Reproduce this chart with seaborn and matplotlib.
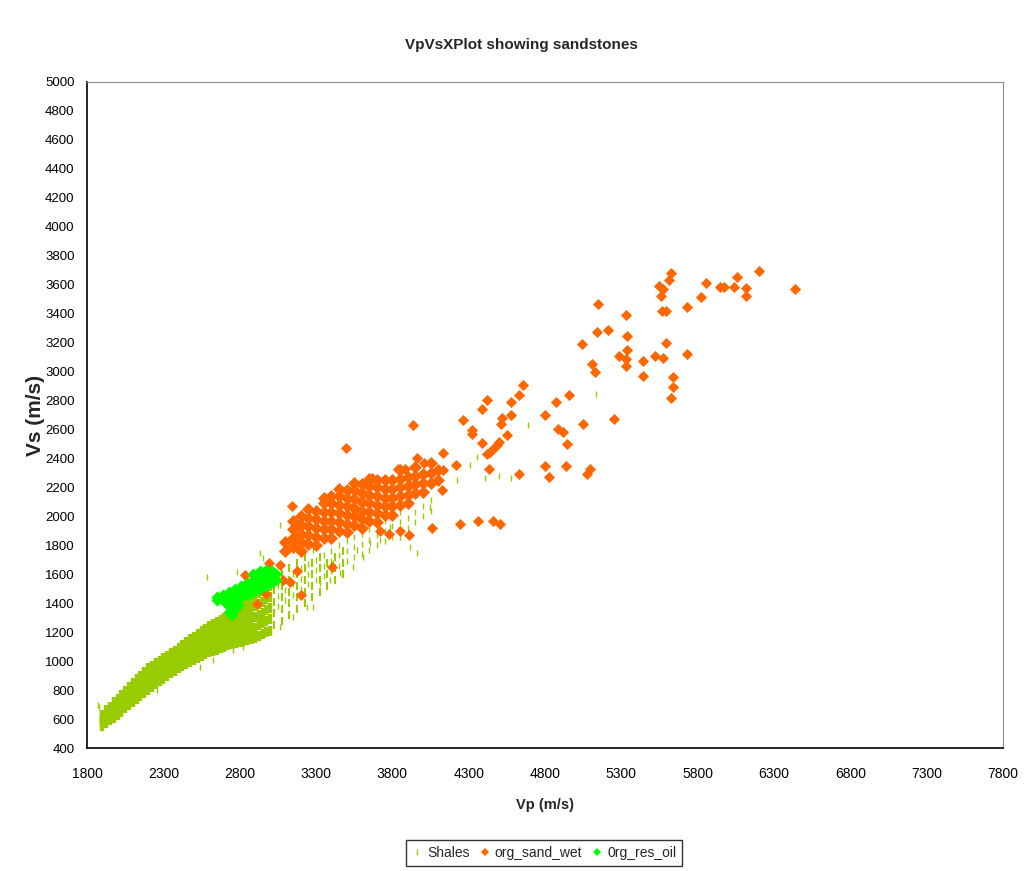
import matplotlib
matplotlib.use("Agg")
import matplotlib.pyplot as plt
from matplotlib.lines import Line2D
import seaborn as sns

# ---------------- data ----------------
# Shales: dense core of the trend, one column of dashes per Vp value (five Vs levels)
shale_core_vp = [1900, 1925, 1950, 1975, 2000, 2025, 2050, 2075, 2100, 2125, 2150, 2175,
                 2200, 2225, 2250, 2275, 2300, 2325, 2350, 2375, 2400, 2425, 2450, 2475,
                 2500, 2525, 2550, 2575, 2600, 2625, 2650, 2675, 2700, 2725, 2750, 2775,
                 2800, 2825, 2850, 2875, 2900, 2925, 2950, 2975, 3000]
shale_core_l1 = [550, 570, 590, 610, 630, 652, 675, 698, 720, 740, 760, 780,
                 800, 820, 840, 860, 880, 898, 915, 933, 950, 965, 980, 995,
                 1010, 1023, 1035, 1048, 1060, 1070, 1080, 1090, 1100, 1108, 1115, 1123,
                 1130, 1138, 1145, 1153, 1160, 1173, 1185, 1198, 1210]
shale_core_l2 = [570, 592, 614, 636, 658, 681, 705, 729, 752, 774, 795, 816,
                 838, 857, 876, 896, 915, 933, 950, 968, 985, 1001, 1018, 1034,
                 1050, 1064, 1078, 1092, 1105, 1116, 1128, 1139, 1150, 1160, 1170, 1180,
                 1190, 1201, 1211, 1222, 1232, 1247, 1260, 1274, 1288]
shale_core_l3 = [590, 615, 638, 662, 685, 710, 735, 760, 785, 808, 830, 852,
                 875, 894, 912, 932, 950, 968, 985, 1003, 1020, 1038, 1055, 1072,
                 1090, 1105, 1120, 1135, 1150, 1162, 1175, 1188, 1200, 1213, 1225, 1238,
                 1250, 1264, 1278, 1291, 1305, 1320, 1335, 1350, 1365]
shale_core_l4 = [610, 638, 661, 689, 712, 738, 765, 791, 818, 841, 865, 889,
                 912, 931, 949, 967, 985, 1003, 1020, 1038, 1055, 1074, 1092, 1111,
                 1130, 1147, 1162, 1179, 1195, 1209, 1222, 1236, 1250, 1265, 1280, 1295,
                 1310, 1327, 1344, 1361, 1378, 1394, 1410, 1427, 1442]
shale_core_l5 = [630, 660, 685, 715, 740, 767, 795, 822, 850, 875, 900, 925,
                 950, 968, 985, 1003, 1020, 1038, 1055, 1073, 1090, 1110, 1130, 1150,
                 1170, 1188, 1205, 1223, 1240, 1255, 1270, 1285, 1300, 1318, 1335, 1353,
                 1370, 1390, 1410, 1430, 1450, 1468, 1485, 1503, 1520]

# Shales: medium-density part of the trend just above Vp 3000
shale_mid_vp = [3025, 3025, 3025, 3025, 3075, 3075, 3075, 3075, 3075,
                3125, 3125, 3125, 3125, 3125, 3175, 3175, 3175, 3175, 3175,
                3225, 3225, 3225, 3225, 3225, 3275, 3275, 3275, 3275,
                3325, 3325, 3325, 3325, 3375, 3375, 3375, 3425, 3425, 3425,
                3475, 3475, 3475]
shale_mid_vs = [1250, 1330, 1410, 1490, 1280, 1360, 1440, 1520, 1600,
                1320, 1400, 1480, 1560, 1640, 1360, 1440, 1520, 1600, 1680,
                1400, 1480, 1560, 1640, 1720, 1440, 1520, 1600, 1680,
                1480, 1560, 1640, 1720, 1520, 1600, 1680, 1560, 1640, 1720,
                1600, 1680, 1760]

# Shales: looser part of the trend and scattered dashes
shale_vp = [3050, 3050, 3050, 3100, 3100, 3100, 3150, 3150, 3150, 3200, 3200, 3200,
            3250, 3250, 3250, 3300, 3300, 3300, 3350, 3350, 3350, 3400, 3400, 3400,
            3450, 3450, 3450, 3500, 3500, 3500, 3550, 3550, 3550, 3600, 3600, 3600,
            3650, 3650, 3650, 3700, 3700, 3700, 3750, 3750, 3750, 3800, 3800, 3800,
            3850, 3850, 3850, 3900, 3900, 3950, 3950, 4000, 4000, 4050, 4050,
            3064, 2953, 3149, 3280, 3326, 3392, 3280, 3241, 3064, 3149, 2999, 2756,
            2822, 2887, 2540, 2625, 2258, 2213, 2586, 2782, 2933, 3569, 3654, 3719,
            3411, 3457, 3542, 3608, 3785, 3850, 3916, 3962, 4047, 4690, 5134, 4223,
            4407, 4500, 4575, 4309, 4353, 1880, 1870]
shale_vs = [1380, 1450, 1520, 1420, 1490, 1560, 1460, 1530, 1600, 1500, 1570, 1640,
            1530, 1600, 1670, 1560, 1630, 1700, 1590, 1660, 1730, 1620, 1690, 1760,
            1660, 1730, 1800, 1690, 1760, 1830, 1720, 1790, 1860, 1740, 1810, 1880,
            1770, 1840, 1910, 1800, 1870, 1940, 1830, 1900, 1970, 1860, 1930, 2000,
            1890, 1960, 2030, 1920, 1990, 1960, 2030, 2000, 2070, 2040, 2110,
            1940, 1712, 1857, 1768, 1540, 1560, 1374, 1374, 1236, 1305, 1284, 1077,
            1098, 1146, 960, 1008, 801, 822, 1581, 1616, 1747, 1768, 1816, 1837,
            1678, 1609, 1650, 1719, 1926, 1857, 1788, 1747, 2065, 2630, 2845, 2251,
            2265, 2279, 2265, 2355, 2410, 680, 700]

# org_sand_wet: scattered points
sand_vp = [6200, 6055, 6040, 6115, 6115, 5970, 5945, 5855, 5820, 5730, 6440, 5625,
           5615, 5545, 5570, 5560, 5565, 5590, 5150, 5330, 5140, 5210, 5340, 5040,
           5595, 5340, 5285, 5330, 5330, 5445, 5445, 5520, 5575, 5730, 5105, 5125,
           5640, 5640, 5625,
           4655, 4630, 4420, 4390, 4580, 4580, 4520, 4510, 4260, 4320, 4325, 4550,
           4390, 4500, 4485, 4460, 4440, 4420, 4130, 4215, 4435, 4630, 4800, 4825,
           4935, 5095, 5075, 4800, 4870, 4955, 4885, 4915, 4945, 5050, 5250, 4135,
           4125, 4245, 4360, 4460, 4505,
           3935, 3497, 3141, 4062, 3960, 4007, 3839, 3883, 3665,
           2835, 2915, 2970, 2990, 3065, 3085, 3130, 3205, 3175, 3405,
           3720, 3780, 3850, 3910]
sand_vs = [3695, 3655, 3585, 3575, 3525, 3585, 3585, 3610, 3515, 3445, 3570, 3680,
           3635, 3590, 3570, 3525, 3415, 3420, 3470, 3390, 3275, 3285, 3245, 3190,
           3200, 3150, 3110, 3090, 3035, 3075, 2970, 3110, 3095, 3120, 3055, 3000,
           2965, 2895, 2820,
           2905, 2840, 2805, 2740, 2790, 2700, 2680, 2635, 2665, 2595, 2570, 2565,
           2505, 2515, 2495, 2465, 2445, 2430, 2435, 2355, 2325, 2290, 2345, 2270,
           2345, 2325, 2290, 2700, 2790, 2840, 2600, 2580, 2500, 2635, 2675, 2320,
           2185, 1945, 1970, 1970, 1945,
           2630, 2472, 2071, 1917, 2400, 2366, 2325, 2325, 2263,
           1595, 1395, 1465, 1675, 1665, 1560, 1550, 1455, 1620, 1650,
           1900, 1880, 1900, 1870]

# org_sand_wet: dense cluster
sand_core_vp = [3100, 3100,
                3150, 3150, 3150, 3150,
                3200, 3200, 3200, 3200, 3200,
                3250, 3250, 3250, 3250, 3250,
                3300, 3300, 3300, 3300, 3300,
                3350, 3350, 3350, 3350, 3350, 3350,
                3400, 3400, 3400, 3400, 3400, 3400,
                3450, 3450, 3450, 3450, 3450, 3450,
                3500, 3500, 3500, 3500, 3500, 3500,
                3550, 3550, 3550, 3550, 3550, 3550,
                3600, 3600, 3600, 3600, 3600, 3600,
                3650, 3650, 3650, 3650, 3650, 3650,
                3700, 3700, 3700, 3700, 3700, 3700,
                3750, 3750, 3750, 3750, 3750,
                3800, 3800, 3800, 3800, 3800,
                3850, 3850, 3850, 3850, 3850,
                3900, 3900, 3900, 3900,
                3950, 3950, 3950, 3950,
                4000, 4000, 4000,
                4050, 4050, 4050,
                4100, 4100]
sand_core_vs = [1760, 1820,
                1790, 1850, 1910, 1970,
                1760, 1820, 1880, 1940, 2000,
                1810, 1870, 1930, 1990, 2050,
                1800, 1860, 1920, 1980, 2040,
                1850, 1910, 1970, 2030, 2090, 2130,
                1850, 1910, 1970, 2030, 2090, 2140,
                1900, 1960, 2020, 2080, 2140, 2190,
                1890, 1950, 2010, 2070, 2130, 2180,
                1940, 2000, 2060, 2120, 2180, 2230,
                1920, 1980, 2040, 2100, 2160, 2220,
                1970, 2030, 2090, 2150, 2210, 2260,
                1960, 2020, 2080, 2140, 2200, 2250,
                2010, 2070, 2130, 2190, 2250,
                2010, 2070, 2130, 2190, 2250,
                2080, 2140, 2200, 2260, 2320,
                2090, 2150, 2210, 2270,
                2160, 2220, 2280, 2340,
                2170, 2230, 2290,
                2230, 2300, 2370,
                2250, 2320]

# 0rg_res_oil
oil_vp = [2650, 2650, 2690, 2690, 2730, 2730, 2730, 2730, 2770, 2770, 2770, 2770,
          2810, 2810, 2810, 2850, 2850, 2850, 2890, 2890, 2890, 2890,
          2930, 2930, 2930, 2930, 2970, 2970, 2970, 2970, 3010, 3010, 3010, 3040, 3040,
          2750, 2790, 2710]
oil_vs = [1420, 1440, 1420, 1460, 1440, 1480, 1380, 1340, 1460, 1500, 1410, 1360,
          1480, 1520, 1440, 1500, 1540, 1460, 1520, 1560, 1600, 1480,
          1540, 1580, 1620, 1500, 1560, 1600, 1630, 1520, 1550, 1590, 1620, 1560, 1600,
          1320, 1390, 1400]

series_names = ["Shales", "org_sand_wet", "0rg_res_oil"]
series_colors = ["#99CC00", "#FF6600", "#00FF00"]
x_ticks = [1800, 2300, 2800, 3300, 3800, 4300, 4800, 5300, 5800, 6300, 6800, 7300, 7800]
y_ticks = list(range(400, 5001, 200))

# ---------------- figure ----------------
sns.set_theme(style="white")
plt.rcParams['font.family'] = ['Liberation Sans', 'DejaVu Sans']

fig = plt.figure(figsize=(10.24, 8.71), dpi=100)
ax = fig.add_axes([87 / 1024, 123 / 871, 916 / 1024, 666 / 871])

shale_c, sand_c, oil_c = series_colors

# shales
for lev in (shale_core_l1, shale_core_l2, shale_core_l3, shale_core_l4, shale_core_l5):
    sns.scatterplot(x=shale_core_vp, y=lev, marker='|', s=50, linewidth=3.2,
                    color=shale_c, ax=ax, legend=False, zorder=2)
sns.scatterplot(x=shale_mid_vp, y=shale_mid_vs, marker='|', s=30, linewidth=1.5,
                color=shale_c, ax=ax, legend=False, zorder=2)
sns.scatterplot(x=shale_vp, y=shale_vs, marker='|', s=16, linewidth=1.0,
                color=shale_c, ax=ax, legend=False, zorder=2)
# sands
sns.scatterplot(x=sand_core_vp, y=sand_core_vs, marker='D', s=44, linewidth=0,
                color=sand_c, ax=ax, legend=False, zorder=3)
sns.scatterplot(x=sand_vp, y=sand_vs, marker='D', s=32, linewidth=0,
                color=sand_c, ax=ax, legend=False, zorder=3)
# oil
sns.scatterplot(x=oil_vp, y=oil_vs, marker='D', s=38, linewidth=0,
                color=oil_c, ax=ax, legend=False, zorder=4)

ax.set_xlim(1800, 7800)
ax.set_ylim(400, 5000)
ax.set_xticks(x_ticks)
ax.set_yticks(y_ticks)
ax.set_xticklabels([str(t) for t in x_ticks], fontsize=10)
ax.set_yticklabels([str(t) for t in y_ticks], fontsize=9.5)
ax.tick_params(axis='both', which='major', direction='out', length=5, width=1,
               color='black', labelcolor='black', pad=4)
ax.tick_params(axis='x', pad=9)

for side in ('left', 'bottom'):
    ax.spines[side].set_color('black')
    ax.spines[side].set_linewidth(1.2)
for side in ('top', 'right'):
    ax.spines[side].set_color('#8c8c8c')
    ax.spines[side].set_linewidth(0.8)
ax.set_facecolor('white')
ax.grid(False)

ax.set_xlabel("Vp (m/s)", fontsize=10.5, fontweight='bold', labelpad=12)
ax.set_ylabel("Vs (m/s)", fontsize=15, fontweight='bold', labelpad=0)

fig.text(521 / 1024, 1 - 45 / 871, "VpVsXPlot showing sandstones", ha='center',
         va='center', fontsize=11, fontweight='bold')

handles = [
    Line2D([], [], linestyle='none', marker='|', markersize=4, markeredgewidth=1,
           color=shale_c),
    Line2D([], [], linestyle='none', marker='D', markersize=4.5, color=sand_c,
           markeredgewidth=0),
    Line2D([], [], linestyle='none', marker='D', markersize=4.5, color=oil_c,
           markeredgewidth=0),
]
leg = fig.legend(handles, series_names, loc='center',
                 bbox_to_anchor=(544 / 1024, 1 - 853 / 871), ncol=3, fontsize=10,
                 frameon=True, fancybox=False, edgecolor='black', handlelength=0.8,
                 handletextpad=0.3, columnspacing=0.7, borderpad=0.4)
leg.get_frame().set_linewidth(1.0)

fig.savefig("out.png", dpi=100, facecolor='white')
